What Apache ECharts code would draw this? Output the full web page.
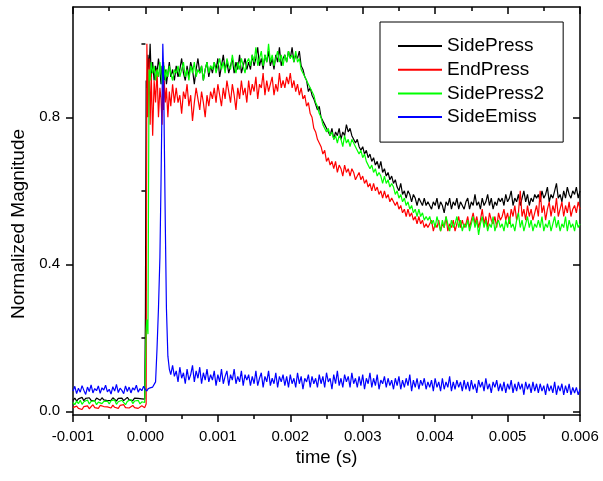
<!DOCTYPE html>
<html><head><meta charset="utf-8">
<script src="https://cdn.jsdelivr.net/npm/echarts@6/dist/echarts.min.js"></script>
<style>html,body{margin:0;padding:0;background:#fff}#c{width:603px;height:481px}</style>
</head><body><div id="c"></div>
<script>
// sample times in microseconds
const timeUs = [
 -1000,-975,-950,-925,-900,-875,-850,-825,-800,-775,-750,-725,-700,-675,-650,-625,-600,-575,-550,-525,
 -500,-475,-450,-425,-400,-375,-350,-325,-300,-275,-250,-225,-200,-175,-150,-125,-100,-75,-50,-25,
 -10,
 0,10,20,35,50,65,80,100,120,140,160,180,200,215,230,240,250,260,275,290,310,330,350,375,400,
 425,450,475,500,525,550,575,600,625,650,675,700,725,750,775,800,825,850,875,900,
 925,950,975,1000,1025,1050,1075,1100,1125,1150,1175,1200,1225,1250,1275,1300,1325,1350,1375,1400,
 1425,1450,1475,1500,1525,1550,1575,1600,1625,1650,1675,1700,1725,1750,1775,1800,1825,1850,1875,1900,
 1925,1950,1975,2000,2025,2050,2075,2100,2125,2150,2175,2200,2225,2250,2275,2300,2325,2350,2375,2400,
 2425,2450,2475,2500,2525,2550,2575,2600,2625,2650,2675,2700,2725,2750,2775,2800,2825,2850,2875,2900,
 2925,2950,2975,3000,3025,3050,3075,3100,3125,3150,3175,3200,3225,3250,3275,3300,3325,3350,3375,3400,
 3425,3450,3475,3500,3525,3550,3575,3600,3625,3650,3675,3700,3725,3750,3775,3800,3825,3850,3875,3900,
 3925,3950,3975,4000,4025,4050,4075,4100,4125,4150,4175,4200,4225,4250,4275,4300,4325,4350,4375,4400,
 4425,4450,4475,4500,4525,4550,4575,4600,4625,4650,4675,4700,4725,4750,4775,4800,4825,4850,4875,4900,
 4925,4950,4975,5000,5025,5050,5075,5100,5125,5150,5175,5200,5225,5250,5275,5300,5325,5350,5375,5400,
 5425,5450,5475,5500,5525,5550,5575,5600,5625,5650,5675,5700,5725,5750,5775,5800,5825,5850,5875,5900,
 5925,5950,5975,6000
];
const sidePress = [
 0.030,0.036,0.028,0.034,0.031,0.038,0.029,0.035,0.032,0.037,0.030,0.034,0.028,0.036,0.033,0.030,0.037,0.031,0.035,0.029,
 0.034,0.030,0.037,0.032,0.028,0.035,0.031,0.036,0.029,0.034,0.038,0.031,0.033,0.029,0.036,0.032,0.035,0.030,0.034,0.031,
 0.033,
 0.27,0.90,0.88,0.97,0.93,1.00,0.91,0.95,0.90,0.94,0.92,0.96,0.93,0.89,0.94,0.91,0.95,0.90,0.93,0.89,0.92,0.95,0.91,0.93,0.90,
 0.94,0.91,0.93,0.96,0.92,0.90,0.94,0.91,0.95,0.93,0.89,0.93,0.96,0.92,0.94,0.90,0.93,0.95,0.91,0.94,
 0.92,0.95,0.93,0.96,0.91,0.94,0.97,0.93,0.95,0.92,0.94,0.96,0.92,0.95,0.93,0.97,0.92,0.94,0.96,0.93,
 0.95,0.93,0.97,0.94,0.96,0.99,0.94,0.96,0.93,0.97,0.95,0.98,0.94,0.96,0.93,0.97,0.95,0.99,0.94,0.96,
 0.97,0.95,0.98,0.96,0.99,0.95,0.97,0.96,0.98,0.94,0.93,0.91,0.90,0.87,0.88,0.86,0.85,0.85,0.82,0.83,
 0.80,0.79,0.78,0.77,0.76,0.75,0.77,0.74,0.76,0.75,0.77,0.74,0.76,0.75,0.78,0.76,0.77,0.75,0.74,0.73,
 0.74,0.72,0.71,0.72,0.70,0.71,0.69,0.70,0.68,0.69,0.67,0.68,0.66,0.68,0.65,0.66,0.64,0.65,0.63,0.64,
 0.62,0.63,0.61,0.60,0.62,0.59,0.60,0.58,0.60,0.59,0.57,0.59,0.58,0.56,0.58,0.57,0.56,0.58,0.56,0.57,
 0.57,0.55,0.57,0.56,0.58,0.55,0.57,0.56,0.54,0.57,0.56,0.58,0.55,0.57,0.56,0.58,0.55,0.57,0.56,0.55,
 0.57,0.58,0.55,0.57,0.56,0.59,0.56,0.57,0.55,0.58,0.56,0.57,0.59,0.56,0.58,0.55,0.57,0.56,0.58,0.57,
 0.58,0.56,0.59,0.57,0.58,0.60,0.56,0.58,0.57,0.59,0.56,0.58,0.60,0.57,0.59,0.56,0.58,0.57,0.59,0.58,
 0.59,0.57,0.60,0.58,0.59,0.61,0.57,0.59,0.58,0.60,0.62,0.58,0.59,0.57,0.60,0.58,0.61,0.59,0.58,0.60,
 0.59,0.61,0.58,0.60
];
const endPress = [
 0.010,0.006,0.014,0.008,0.012,0.005,0.013,0.009,0.015,0.007,0.012,0.018,0.010,0.014,0.008,0.016,0.011,0.013,0.009,0.012,
 0.015,0.009,0.017,0.011,0.014,0.008,0.016,0.012,0.018,0.010,0.014,0.009,0.013,0.016,0.010,0.014,0.008,0.012,0.015,0.011,
 0.010,
 0.012,0.020,1.00,0.80,0.96,0.78,0.92,0.75,0.90,0.84,0.93,0.80,0.88,0.85,0.78,0.89,0.82,0.90,0.84,0.88,0.80,0.87,0.83,0.89,0.84,
 0.88,0.84,0.86,0.81,0.87,0.85,0.89,0.83,0.86,0.79,0.84,0.88,0.85,0.82,0.87,0.84,0.80,0.86,0.83,0.87,
 0.85,0.88,0.84,0.89,0.86,0.83,0.88,0.85,0.90,0.87,0.84,0.89,0.86,0.82,0.88,0.85,0.90,0.86,0.88,0.84,
 0.90,0.86,0.89,0.87,0.91,0.85,0.89,0.88,0.92,0.86,0.90,0.87,0.89,0.91,0.86,0.89,0.87,0.92,0.88,0.90,
 0.88,0.91,0.89,0.92,0.88,0.90,0.87,0.89,0.86,0.88,0.85,0.86,0.83,0.84,0.81,0.80,0.77,0.76,0.74,0.73,
 0.72,0.70,0.71,0.68,0.69,0.67,0.68,0.66,0.68,0.65,0.67,0.66,0.64,0.67,0.65,0.66,0.64,0.66,0.65,0.63,
 0.64,0.65,0.63,0.64,0.62,0.63,0.61,0.62,0.60,0.62,0.60,0.61,0.59,0.60,0.58,0.60,0.58,0.59,0.57,0.58,
 0.57,0.56,0.57,0.55,0.56,0.54,0.55,0.53,0.55,0.53,0.54,0.52,0.53,0.51,0.53,0.51,0.52,0.50,0.51,0.50,
 0.50,0.52,0.49,0.51,0.50,0.52,0.49,0.51,0.50,0.53,0.49,0.51,0.50,0.52,0.49,0.51,0.53,0.50,0.52,0.50,
 0.51,0.53,0.50,0.52,0.54,0.51,0.53,0.50,0.52,0.55,0.51,0.53,0.50,0.54,0.52,0.51,0.53,0.50,0.54,0.52,
 0.53,0.55,0.52,0.54,0.51,0.55,0.53,0.56,0.52,0.54,0.60,0.53,0.55,0.52,0.56,0.53,0.55,0.52,0.54,0.56,
 0.53,0.60,0.54,0.56,0.52,0.55,0.57,0.53,0.56,0.54,0.58,0.53,0.55,0.57,0.53,0.56,0.54,0.57,0.53,0.55,
 0.56,0.54,0.57,0.55
];
const sidePress2 = [
 0.024,0.018,0.028,0.021,0.030,0.019,0.026,0.022,0.031,0.020,0.027,0.023,0.029,0.018,0.025,0.030,0.021,0.027,0.023,0.028,
 0.020,0.029,0.024,0.031,0.019,0.026,0.022,0.030,0.025,0.018,0.027,0.023,0.032,0.021,0.028,0.024,0.030,0.020,0.026,0.029,
 0.024,
 0.025,0.22,0.25,0.21,0.93,0.90,0.95,0.92,0.94,0.90,0.93,0.91,0.95,0.92,0.89,0.93,0.91,0.94,0.90,0.93,0.91,0.94,0.92,0.90,0.93,
 0.92,0.94,0.91,0.93,0.95,0.91,0.93,0.90,0.94,0.92,0.95,0.91,0.93,0.92,0.94,0.90,0.93,0.95,0.92,0.94,
 0.93,0.95,0.92,0.94,0.96,0.93,0.95,0.92,0.96,0.94,0.93,0.97,0.94,0.92,0.95,0.93,0.96,0.94,0.92,0.95,
 0.96,0.94,0.97,0.95,0.99,0.94,0.96,0.98,0.94,0.97,0.95,1.00,0.95,0.97,0.94,0.96,0.98,0.95,0.97,0.94,
 0.97,0.95,0.98,0.96,0.97,0.95,0.98,0.95,0.96,0.93,0.93,0.91,0.90,0.89,0.89,0.87,0.86,0.84,0.83,0.81,
 0.80,0.78,0.78,0.76,0.77,0.75,0.76,0.74,0.75,0.73,0.75,0.74,0.72,0.75,0.73,0.74,0.72,0.74,0.73,0.72,
 0.72,0.70,0.71,0.69,0.70,0.68,0.68,0.66,0.67,0.65,0.66,0.64,0.65,0.64,0.62,0.64,0.62,0.63,0.61,0.62,
 0.61,0.59,0.60,0.58,0.59,0.57,0.58,0.56,0.57,0.55,0.56,0.54,0.55,0.53,0.55,0.53,0.54,0.52,0.53,0.52,
 0.53,0.51,0.52,0.50,0.53,0.51,0.49,0.52,0.50,0.53,0.51,0.49,0.52,0.50,0.51,0.53,0.50,0.52,0.49,0.51,
 0.50,0.52,0.49,0.51,0.53,0.50,0.52,0.48,0.51,0.53,0.50,0.52,0.49,0.51,0.50,0.53,0.49,0.51,0.52,0.50,
 0.51,0.49,0.52,0.50,0.53,0.50,0.51,0.49,0.52,0.54,0.50,0.52,0.49,0.51,0.53,0.50,0.52,0.49,0.51,0.50,
 0.52,0.50,0.53,0.49,0.51,0.50,0.52,0.49,0.51,0.53,0.50,0.52,0.49,0.51,0.50,0.53,0.49,0.52,0.50,0.51,
 0.49,0.52,0.50,0.51
];
const sideEmiss = [
 0.055,0.068,0.048,0.063,0.052,0.070,0.057,0.046,0.066,0.054,0.072,0.050,0.062,0.056,0.069,0.049,0.064,0.058,0.071,0.053,
 0.060,0.047,0.067,0.055,0.073,0.051,0.063,0.057,0.048,0.069,0.054,0.066,0.050,0.064,0.058,0.071,0.052,0.062,0.056,0.068,
 0.062,
 0.058,0.063,0.055,0.061,0.057,0.064,0.060,0.066,0.070,0.080,0.17,0.28,0.42,0.62,0.85,1.00,0.93,0.75,0.50,0.28,0.15,0.115,0.10,0.125,0.095,
 0.11,0.08,0.12,0.09,0.105,0.075,0.115,0.085,0.10,0.125,0.08,0.11,0.09,0.12,0.075,0.105,0.085,0.115,0.08,0.10,
 0.085,0.11,0.07,0.10,0.08,0.115,0.075,0.095,0.11,0.07,0.10,0.085,0.115,0.075,0.095,0.08,0.11,0.07,0.10,0.085,
 0.10,0.07,0.095,0.075,0.11,0.07,0.09,0.105,0.065,0.095,0.08,0.11,0.07,0.09,0.075,0.105,0.065,0.095,0.08,0.10,
 0.07,0.095,0.065,0.10,0.075,0.09,0.065,0.105,0.075,0.095,0.06,0.09,0.08,0.10,0.065,0.095,0.075,0.09,0.065,0.10,
 0.075,0.095,0.065,0.105,0.08,0.09,0.06,0.10,0.075,0.11,0.07,0.09,0.065,0.10,0.08,0.095,0.065,0.105,0.075,0.09,
 0.065,0.095,0.07,0.10,0.06,0.09,0.075,0.105,0.065,0.09,0.07,0.10,0.06,0.085,0.075,0.095,0.065,0.09,0.07,0.085,
 0.06,0.09,0.07,0.095,0.06,0.085,0.065,0.09,0.07,0.10,0.055,0.085,0.065,0.09,0.06,0.085,0.07,0.09,0.06,0.08,
 0.065,0.085,0.055,0.09,0.065,0.08,0.055,0.09,0.06,0.08,0.065,0.095,0.055,0.08,0.06,0.085,0.065,0.08,0.055,0.085,
 0.06,0.08,0.055,0.085,0.06,0.075,0.05,0.085,0.065,0.08,0.055,0.09,0.06,0.075,0.05,0.08,0.065,0.085,0.055,0.075,
 0.055,0.08,0.05,0.075,0.06,0.085,0.05,0.075,0.055,0.08,0.06,0.075,0.045,0.08,0.06,0.075,0.05,0.08,0.055,0.075,
 0.05,0.075,0.055,0.07,0.045,0.075,0.055,0.07,0.05,0.08,0.045,0.07,0.055,0.075,0.045,0.07,0.05,0.075,0.045,0.065,
 0.05,0.065,0.045,0.06
];
const seriesNames = ['SidePress','EndPress','SidePress2','SideEmiss'];
const seriesColors = ['#000000','#ff0000','#00ff00','#0000ff'];
const seriesValues = [sidePress, endPress, sidePress2, sideEmiss];
const yLabelValues = [0, 0.4, 0.8];
const yMinorValues = [0.2, 0.6, 1.0];

seriesValues.forEach((arr, i) => {
  if (arr.length !== timeUs.length) throw new Error(seriesNames[i] + ' length ' + arr.length + ' vs ' + timeUs.length);
});

const FONT = 'Liberation Sans, Arial, sans-serif';
const axisLine = { show: true, onZero: false, lineStyle: { color: '#000', width: 1.5 } };

const chart = echarts.init(document.getElementById('c'), null, { renderer: 'canvas' });
chart.setOption({
  animation: false,
  backgroundColor: '#fff',
  grid: { left: 73, right: 23, top: 7, bottom: 66, containLabel: false },
  legend: {
    orient: 'vertical', left: 380, top: 22,
    padding: [14, 19, 15, 18],
    borderColor: '#000', borderWidth: 1, backgroundColor: '#fff',
    icon: 'rect',
    itemWidth: 44, itemHeight: 2, itemGap: 3.7, itemTextGap: 6,
    textStyle: { fontFamily: FONT, fontSize: 19, lineHeight: 20, color: '#000' },
    data: seriesNames
  },
  xAxis: [
    {
      type: 'value', position: 'bottom', min: -1000, max: 6000, interval: 1000,
      name: 'time (s)', nameLocation: 'middle', nameGap: 33,
      nameTextStyle: { fontFamily: FONT, fontSize: 18.5, color: '#000' },
      axisLine: axisLine,
      axisTick: { show: true, length: 7, lineStyle: { color: '#000', width: 1.5 } },
      minorTick: { show: true, splitNumber: 2, length: 4, lineStyle: { color: '#000', width: 1.5 } },
      axisLabel: { margin: 14, fontFamily: FONT, fontSize: 15, color: '#000',
        formatter: v => (v / 1e6).toFixed(3) },
      splitLine: { show: false }, minorSplitLine: { show: false }
    },
    {
      type: 'value', position: 'top', min: -1000, max: 6000, interval: 1000,
      axisLine: axisLine,
      axisTick: { show: true, inside: true, length: 7, lineStyle: { color: '#000', width: 1.5 } },
      minorTick: { show: true, splitNumber: 2, length: 4, lineStyle: { color: '#000', width: 1.5 } },
      axisLabel: { show: false }, splitLine: { show: false }
    }
  ],
  yAxis: [
    {
      type: 'value', position: 'left', min: -0.01, max: 1.1,
      name: 'Normalized Magnitude', nameLocation: 'middle', nameGap: 44,
      nameTextStyle: { fontFamily: FONT, fontSize: 19, color: '#000', padding: [0, 26, 0, 0] },
      axisLine: axisLine,
      axisTick: { show: true, length: 7, customValues: yLabelValues, lineStyle: { color: '#000', width: 1.5 } },
      axisLabel: { margin: 13, fontFamily: FONT, fontSize: 15, color: '#000', customValues: yLabelValues,
        formatter: v => v.toFixed(1) },
      splitLine: { show: false }
    },
    {
      type: 'value', position: 'left', min: -0.01, max: 1.1,
      axisLine: { show: false },
      axisTick: { show: true, length: 4, customValues: yMinorValues, lineStyle: { color: '#000', width: 1.5 } },
      axisLabel: { show: false }, splitLine: { show: false }
    },
    {
      type: 'value', position: 'right', min: -0.01, max: 1.1,
      axisLine: axisLine,
      axisTick: { show: true, inside: true, length: 7, customValues: yLabelValues, lineStyle: { color: '#000', width: 1.5 } },
      axisLabel: { show: false }, splitLine: { show: false }
    },
    {
      type: 'value', position: 'right', min: -0.01, max: 1.1,
      axisLine: { show: false },
      axisTick: { show: true, inside: true, length: 4, customValues: yMinorValues, lineStyle: { color: '#000', width: 1.5 } },
      axisLabel: { show: false }, splitLine: { show: false }
    }
  ],
  series: seriesValues.map((vals, i) => ({
    name: seriesNames[i],
    type: 'line',
    xAxisIndex: 0, yAxisIndex: 0,
    symbol: 'none', showSymbol: false,
    color: seriesColors[i],
    lineStyle: { color: seriesColors[i], width: 1.2 },
    sampling: null,
    clip: true,
    data: timeUs.map((t, k) => [t, vals[k]])
  }))
});
</script></body></html>
